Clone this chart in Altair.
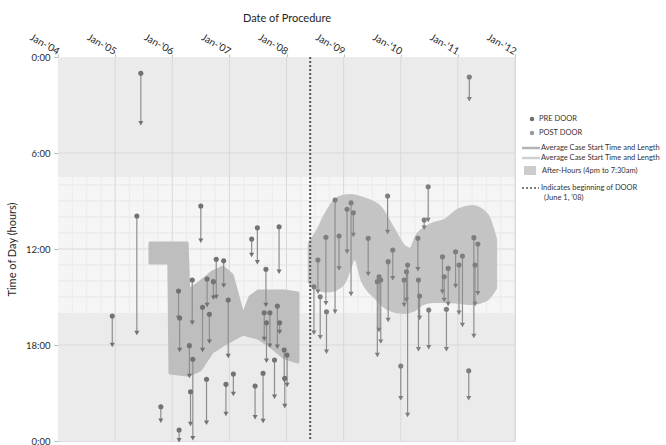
import altair as alt
import pandas as pd

# Cases before DOOR: procedure date (decimal year), start and end time (hours after midnight)
pre_year = [2004.95, 2005.38, 2005.45, 2005.80, 2006.12, 2006.11, 2006.13, 2006.30, 2006.32, 2006.35,
            2006.36, 2006.50, 2006.53, 2006.60, 2006.61, 2006.65, 2006.72, 2006.77, 2006.90, 2006.94,
            2006.98, 2007.07, 2007.39, 2007.45, 2007.49, 2007.59, 2007.61, 2007.64, 2007.65, 2007.71,
            2007.79, 2007.84, 2007.87, 2007.88, 2007.96, 2007.97, 2008.01]
pre_start = [16.19, 9.94, 1.02, 21.86, 23.31, 14.63, 16.31, 18.04, 20.92, 13.94,
             18.89, 9.31, 15.64, 20.14, 13.88, 16.08, 14.04, 12.64, 12.73, 20.46,
             15.19, 19.81, 11.38, 20.56, 10.67, 19.77, 15.98, 13.27, 16.61, 15.98,
             18.94, 15.56, 10.61, 16.61, 18.31, 20.08, 18.63]
pre_end = [18.0, 17.25, 4.14, 22.73, 23.95, 16.31, 18.31, 19.94, 22.94, 16.61,
           23.83, 11.48, 18.31, 22.86, 15.5, 17.79, 15.04, 15.0, 14.29, 22.31,
           18.69, 21.06, 12.38, 22.52, 12.83, 22.75, 17.63, 15.5, 18.98, 18.04,
           21.23, 18.11, 13.42, 17.19, 20.19, 21.81, 20.5]

# Cases after DOOR
post_year = [2008.48, 2008.55, 2008.59, 2008.69, 2008.70, 2008.85, 2008.92, 2009.06, 2009.13, 2009.17,
             2009.43, 2009.59, 2009.62, 2009.65, 2009.77, 2009.78, 2009.86, 2010.00, 2010.06, 2010.10,
             2010.12, 2010.30, 2010.31, 2010.33, 2010.41, 2010.48, 2010.49, 2010.73, 2010.76, 2010.80,
             2010.83, 2010.96, 2011.02, 2011.08, 2011.19, 2011.20, 2011.28, 2011.30, 2011.35]
post_start = [14.36, 12.69, 14.98, 11.27, 15.92, 8.94, 11.19, 9.52, 9.11, 9.73,
              11.33, 14.04, 13.73, 13.94, 8.69, 12.79, 12.06, 19.31, 13.94, 13.42,
              13.0, 11.33, 13.94, 14.94, 10.19, 8.11, 15.81, 12.48, 13.73, 15.77,
              13.21, 12.17, 13.0, 12.44, 19.61, 1.25, 11.29, 13.0, 11.69]
post_end = [17.23, 14.67, 17.52, 15.39, 18.42, 15.92, 13.21, 12.17, 14.81, 11.13,
            13.56, 18.63, 17.06, 17.79, 10.94, 16.44, 13.83, 21.33, 15.5, 15.19,
            22.38, 13.27, 18.27, 16.31, 10.67, 10.19, 18.14, 14.67, 15.19, 18.27,
            15.44, 14.31, 15.98, 16.75, 21.33, 2.64, 17.44, 15.44, 14.77]

# Average case start time and length (running band), before DOOR
pre_band_year = [2005.61, 2005.94, 2005.96, 2006.26, 2006.29, 2006.49, 2006.70, 2006.89,
                 2007.05, 2007.24, 2007.36, 2007.50, 2007.71, 2007.97, 2008.20]
pre_band_top = [11.63, 11.63, 11.63, 11.63, 14.56, 14.06, 13.44, 13.13,
                13.63, 16.13, 15.0, 14.63, 14.63, 14.63, 14.75]
pre_band_bot = [12.88, 12.88, 19.75, 19.88, 19.88, 19.56, 18.44, 18.0,
                17.69, 17.31, 17.44, 17.56, 18.06, 18.81, 19.06]

# Average case start time and length, after DOOR
post_band_year = [2008.46, 2008.59, 2008.73, 2008.94, 2009.11, 2009.23, 2009.39, 2009.60, 2009.81,
                  2010.04, 2010.20, 2010.34, 2010.55, 2010.81, 2011.04, 2011.25, 2011.46, 2011.60]
post_band_top = [11.7, 11.0, 10.0, 9.0, 8.88, 8.94, 9.13, 9.56, 10.81,
                 12.06, 12.25, 11.25, 10.69, 10.38, 9.75, 9.56, 10.0, 11.44]
post_band_bot = [14.0, 14.35, 14.4, 14.06, 12.6, 12.2, 13.94, 14.88, 15.56,
                 15.75, 15.63, 15.25, 15.06, 15.06, 15.13, 15.19, 15.0, 14.38]

# Day split: after-hours (4pm to 7:30am) and regular hours
after_start = [0.0, 16.0]
after_end = [7.5, 24.0]
regular_start = [7.5]
regular_end = [16.0]

door_start = 2008.415          # June 1, 2008
year_ticks = list(range(2004, 2013))
quarter_ticks = [y + q for y in range(2004, 2012) for q in (0.25, 0.5, 0.75)]
hour_ticks = [0, 6, 12, 18, 24]
minor_hours = [8, 9, 10, 11, 13, 14, 15]

FONT = "Lato"
W, H = 457, 384
BAND = "#c4c4c4"

xs = alt.Scale(domain=[2004, 2012], nice=False, zero=False)
ys = alt.Scale(domain=[0, 24], reverse=True, nice=False, zero=False)

X_AXIS = alt.Axis(orient="top", values=year_ticks, title="Date of Procedure",
                  labelExpr="\"Jan-'\" + substring(toString(datum.value), 2, 4)",
                  labelAngle=30, labelAlign="right", labelBaseline="middle",
                  grid=False, domainColor="#bdbdbd", tickColor="#bdbdbd", tickSize=3,
                  labelPadding=2, labelFont=FONT, labelFontSize=10, labelColor="#2a2a2a",
                  titleFont=FONT, titleFontSize=11, titleFontWeight="normal",
                  titleColor="#1e1e1e", titlePadding=8)
Y_AXIS = alt.Axis(values=hour_ticks, title="Time of Day  (hours)",
                  labelExpr="(datum.value % 24) + ':00'",
                  grid=False, domainColor="#bdbdbd", tickColor="#bdbdbd", tickSize=4,
                  labelPadding=4, labelFont=FONT, labelFontSize=9.5, labelColor="#2a2a2a",
                  titleFont=FONT, titleFontSize=11, titleFontWeight="normal",
                  titleColor="#1e1e1e", titlePadding=8)


def X(field):
    return alt.X(field, type="quantitative", scale=xs, axis=X_AXIS)


def Y(field):
    return alt.Y(field, type="quantitative", scale=ys, axis=Y_AXIS)


after_df = pd.DataFrame({"h0": after_start, "h1": after_end, "x0": 2004, "x1": 2012})
regular_df = pd.DataFrame({"h0": regular_start, "h1": regular_end, "x0": 2004, "x1": 2012})
after_bg = alt.Chart(after_df).mark_rect(color="#ebebeb").encode(
    x=X("x0"), x2="x1", y=Y("h0"), y2="h1")
regular_bg = alt.Chart(regular_df).mark_rect(color="#f5f5f5").encode(
    x=X("x0"), x2="x1", y=Y("h0"), y2="h1")

minor_h = alt.Chart(pd.DataFrame({"h": minor_hours})).mark_rule(
    color="#e6e6e6", strokeWidth=1).encode(y=Y("h"))
minor_v = alt.Chart(pd.DataFrame({"yr": quarter_ticks, "h0": 7.5, "h1": 16.0})).mark_rule(
    color="#ebebeb", strokeWidth=1).encode(x=X("yr"), y=Y("h0"), y2="h1")
hgrid = alt.Chart(pd.DataFrame({"h": hour_ticks[1:-1]})).mark_rule(
    color="#d9d9d9", strokeWidth=1).encode(y=Y("h"))
vgrid = alt.Chart(pd.DataFrame({"yr": year_ticks[1:]})).mark_rule(
    color="#d9d9d9", strokeWidth=1).encode(x=X("yr"))

pre_band = alt.Chart(pd.DataFrame({"yr": pre_band_year, "top": pre_band_top,
                                   "bot": pre_band_bot})).mark_area(
    color="#bebebe", stroke="#bebebe", strokeWidth=3, strokeJoin="round", opacity=1
).encode(x=X("yr"), y=Y("top"), y2="bot")

post_band = alt.Chart(pd.DataFrame({"yr": post_band_year, "top": post_band_top,
                                    "bot": post_band_bot})).mark_area(
    color=BAND, stroke=BAND, strokeWidth=10, strokeJoin="round",
    interpolate="monotone", opacity=1
).encode(x=X("yr"), y=Y("top"), y2="bot")

door_line = alt.Chart(pd.DataFrame({"yr": [door_start]})).mark_rule(
    color="#555555", strokeWidth=2, strokeDash=[2, 2]).encode(x=X("yr"))


def case_layers(df, dot_color):
    lines = alt.Chart(df).mark_rule(color="#8e8e8e", strokeWidth=1.2).encode(
        x=X("yr"), y=Y("start"), y2="end")
    starts = alt.Chart(df).mark_point(filled=True, shape="circle", size=26, opacity=1,
                                      color=dot_color).encode(x=X("yr"), y=Y("start"))
    ends = alt.Chart(df).mark_point(filled=True, shape="triangle-down", size=26, opacity=1,
                                    color=dot_color).encode(x=X("yr"), y=Y("end"))
    return [lines, starts, ends]


pre_df = pd.DataFrame({"yr": pre_year, "start": pre_start, "end": pre_end})
post_df = pd.DataFrame({"yr": post_year, "start": post_start, "end": post_end})

# Legend, drawn to the right of the plot
lx = W + 17
one = pd.DataFrame({"k": [0]})


def legend_text(txt, x, y):
    return alt.Chart(one).mark_text(align="left", baseline="middle", font=FONT, fontSize=7.5,
                                    color="#333333", text=txt).encode(
        x=alt.value(x), y=alt.value(y))


legend = [
    alt.Chart(one).mark_point(filled=True, shape="circle", size=20, color="#6f6f6f", opacity=1
                              ).encode(x=alt.value(lx), y=alt.value(62)),
    legend_text("PRE DOOR", lx + 7, 62),
    alt.Chart(one).mark_point(filled=True, shape="circle", size=20, color="#9a9a9a", opacity=1
                              ).encode(x=alt.value(lx), y=alt.value(76)),
    legend_text("POST DOOR", lx + 7, 76),
    alt.Chart(one).mark_rule(color="#b4b4b4", strokeWidth=2.5).encode(
        x=alt.value(lx - 10), x2=alt.value(lx + 8), y=alt.value(91)),
    legend_text("Average Case Start Time and Length", lx + 9, 91),
    alt.Chart(one).mark_rule(color="#d0d0d0", strokeWidth=2.5).encode(
        x=alt.value(lx - 10), x2=alt.value(lx + 8), y=alt.value(101)),
    legend_text("Average Case Start Time and Length", lx + 9, 101),
    alt.Chart(one).mark_rect(color="#cccccc").encode(
        x=alt.value(lx - 8), x2=alt.value(lx + 4), y=alt.value(109), y2=alt.value(118)),
    legend_text("After-Hours (4pm to 7:30am)", lx + 10, 114),
    alt.Chart(one).mark_rule(color="#555555", strokeWidth=1.5, strokeDash=[2, 2]).encode(
        x=alt.value(lx - 10), x2=alt.value(lx + 7), y=alt.value(131)),
    legend_text("Indicates beginning of DOOR", lx + 9, 131),
    legend_text("(June 1, '08)", lx + 12, 141),
]

chart = alt.layer(
    after_bg, regular_bg, minor_h, minor_v, hgrid, vgrid, pre_band, post_band, door_line,
    *case_layers(pre_df, "#727272"), *case_layers(post_df, "#7e7e7e"), *legend
).properties(
    width=W, height=H,
    padding={"left": 58, "top": 57, "right": 151, "bottom": 4},
    autosize=alt.AutoSizeParams(type="none"),
).configure_view(stroke="#cfcfcf").configure(background="white")

chart.save("out.html", embed_options={"renderer": "svg", "actions": False})
